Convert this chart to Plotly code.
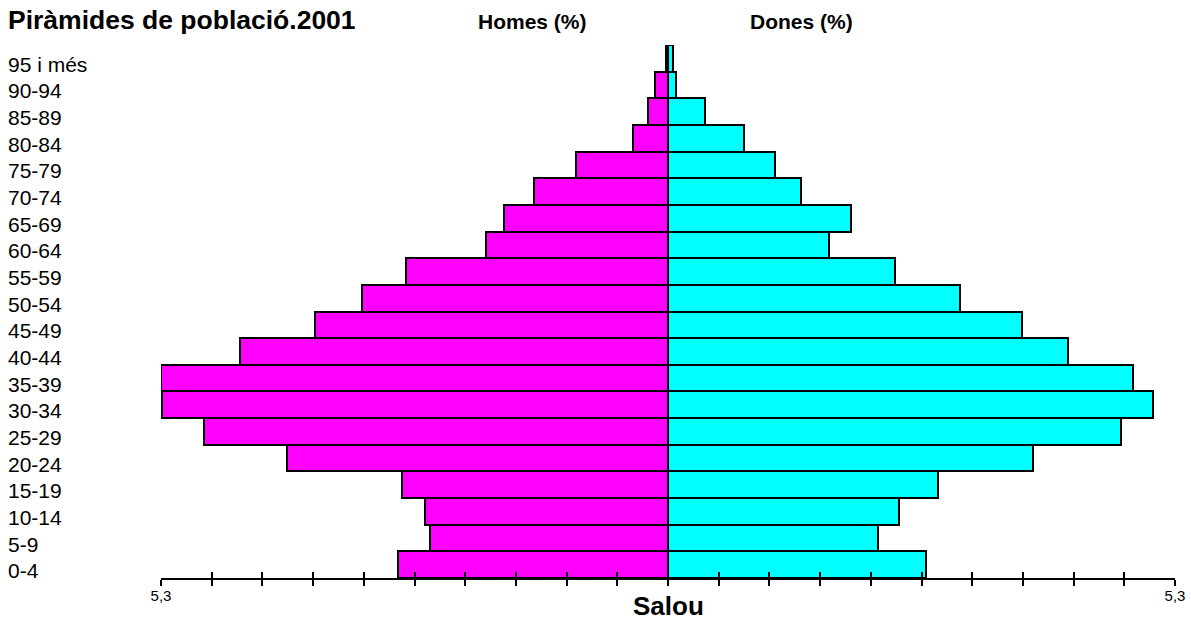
import plotly.graph_objects as go
import numpy as np

# Data (percent of population), youngest first
age_groups = ["0-4", "5-9", "10-14", "15-19", "20-24", "25-29", "30-34", "35-39",
              "40-44", "45-49", "50-54", "55-59", "60-64", "65-69", "70-74",
              "75-79", "80-84", "85-89", "90-94", "95 i més"]
men = [2.82, 2.49, 2.54, 2.78, 3.98, 4.85, 5.29, 5.30, 4.47, 3.69,
       3.20, 2.74, 1.90, 1.71, 1.40, 0.96, 0.37, 0.21, 0.14, 0.02]
women = [2.70, 2.20, 2.41, 2.82, 3.82, 4.74, 5.07, 4.86, 4.18, 3.70,
         3.05, 2.37, 1.68, 1.91, 1.39, 1.12, 0.79, 0.39, 0.08, 0.05]
axis_max = 5.3
end_label = "5,3"

FONT = "Liberation Sans, Arial, sans-serif"
W, H = 1191, 621
ml, mr = 0, 1191 - 1175
mt, mb = 45, H - 578
plot_w = W - ml - mr
plot_h = H - mt - mb
x0 = (161 - ml) / plot_w


def px(xpage):
    return (xpage - ml) / plot_w


def py(ypage):
    return 1 - (ypage - mt) / plot_h


fig = go.Figure()
fig.add_trace(go.Bar(y=age_groups, x=[-v for v in men], orientation="h",
                     marker=dict(color="#FF00FF", line=dict(color="black", width=2)),
                     name="Homes (%)", showlegend=False, hoverinfo="skip"))
fig.add_trace(go.Bar(y=age_groups, x=women, orientation="h",
                     marker=dict(color="#00FFFF", line=dict(color="black", width=2)),
                     name="Dones (%)", showlegend=False, hoverinfo="skip"))
fig.add_trace(go.Scatter(x=[None], y=[None], xaxis="x2", yaxis="y",
                         showlegend=False, hoverinfo="skip"))

n_ticks = 21
tickvals = list(np.linspace(-axis_max, axis_max, n_ticks))
ticktext = [end_label] + [""] * (n_ticks - 2) + [end_label]

fig.update_layout(
    width=W, height=H, autosize=False,
    margin=dict(l=ml, r=mr, t=mt, b=mb, pad=0, autoexpand=False),
    paper_bgcolor="white", plot_bgcolor="white",
    barmode="overlay", bargap=0,
    font=dict(family=FONT, color="black"),
    xaxis=dict(domain=[x0, 1], range=[-axis_max, axis_max], showgrid=False,
               zeroline=False, showline=True, linecolor="black", linewidth=2,
               tickmode="array", tickvals=tickvals, ticktext=ticktext,
               ticks="outside", ticklen=6, tickwidth=2, tickcolor="black",
               ticklabelstandoff=-3, automargin=False,
               tickfont=dict(size=15, family=FONT), fixedrange=True),
    xaxis2=dict(domain=[x0, 1], range=[-axis_max, axis_max], overlaying="x",
                anchor="y", side="bottom", showgrid=False, zeroline=False,
                showline=False, tickmode="array", tickvals=tickvals,
                showticklabels=False, ticks="inside", ticklen=6, tickwidth=2,
                tickcolor="black", automargin=False),
    yaxis=dict(range=[-0.5, len(age_groups) - 0.5], showticklabels=False,
               showgrid=False, zeroline=False, showline=False, ticks="",
               automargin=False,
               type="category", categoryorder="array", categoryarray=age_groups),
)

# Category labels, left-aligned
for g in age_groups:
    fig.add_annotation(x=px(6), xref="paper", y=g, yref="y", text=g, showarrow=False,
                       xanchor="left", yanchor="middle", yshift=-6,
                       font=dict(size=21, family=FONT))

fig.add_annotation(x=px(6), y=py(20), xref="paper", yref="paper",
                   text="<b>Piràmides de població.2001</b>", showarrow=False,
                   xanchor="left", yanchor="middle", font=dict(size=26.5, family=FONT))
fig.add_annotation(x=px(532), y=py(22), xref="paper", yref="paper",
                   text="<b>Homes (%)</b>", showarrow=False, xanchor="center",
                   yanchor="middle", font=dict(size=21, family=FONT))
fig.add_annotation(x=px(801), y=py(22), xref="paper", yref="paper",
                   text="<b>Dones (%)</b>", showarrow=False, xanchor="center",
                   yanchor="middle", font=dict(size=21, family=FONT))
fig.add_annotation(x=px(668), y=py(606), xref="paper", yref="paper",
                   text="<b>Salou</b>", showarrow=False, xanchor="center",
                   yanchor="middle", font=dict(size=26, family=FONT))

fig.write_html("out.html",
               config={"displayModeBar": False, "displaylogo": False},
               post_script="document.body.style.margin='0';"
                           "document.body.style.overflow='hidden';")
